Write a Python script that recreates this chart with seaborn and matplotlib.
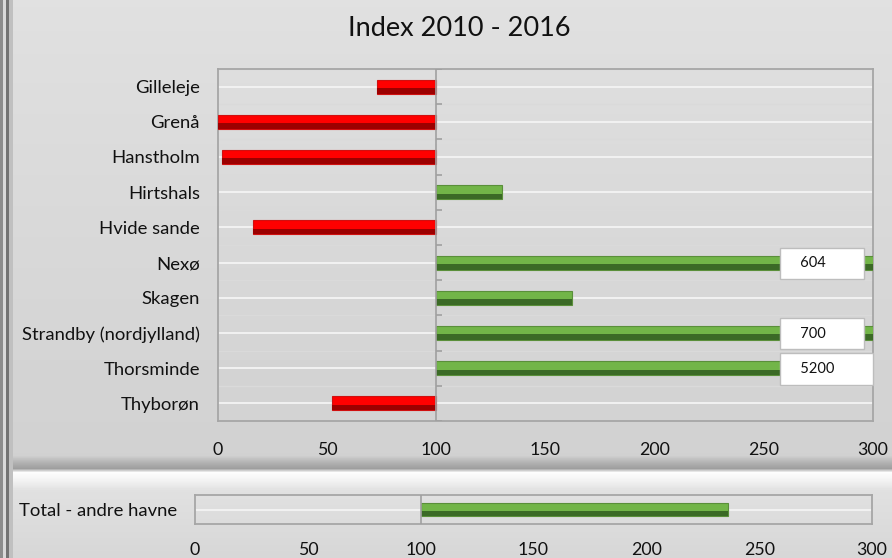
import numpy as np
import seaborn as sns
import matplotlib.pyplot as plt
from matplotlib.patches import Rectangle

# data (index, 2010 = 100)
ports = ["Gilleleje", "Grenå", "Hanstholm", "Hirtshals", "Hvide sande", "Nexø",
         "Skagen", "Strandby (nordjylland)", "Thorsminde", "Thyborøn"]
index_2016 = [73, 0, 2, 130, 16, 604, 162, 700, 5200, 52]
total_label = ["Total - andre havne"]
total_index = [236]
baseline = 100
x_ticks = [0, 50, 100, 150, 200, 250, 300]

W, H = 892, 558
RED, RED_DARK, RED_EDGE = "#ff0000", "#9c0000", "#d01010"
GREEN, GREEN_DARK, GREEN_EDGE = "#72b548", "#3b6a26", "#5a8f3a"

sns.set_theme(style="white")
plt.rcParams["font.family"] = ["Lato", "DejaVu Sans"]


def rect(x0, y0, x1, y1):
    return [x0 / W, 1 - y1 / H, (x1 - x0) / W, (y1 - y0) / H]


def draw_bars(ax, names, values, width):
    delta = [v - baseline for v in values]
    trend = ["up" if d >= 0 else "down" for d in delta]
    sns.barplot(x=delta, y=names, hue=trend, orient="h", dodge=False,
                palette={"up": GREEN, "down": RED}, saturation=1, width=width,
                legend=False, ax=ax, zorder=3)
    for p in list(ax.patches):
        # move bars so they start at the index baseline
        p.set_x(p.get_x() + baseline)
        up = p.get_width() >= 0
        p.set_edgecolor(GREEN_EDGE if up else RED_EDGE)
        p.set_linewidth(0.8)
        ax.add_patch(Rectangle((p.get_x(), p.get_y() + p.get_height() * 0.6),
                               p.get_width(), p.get_height() * 0.4,
                               color=GREEN_DARK if up else RED_DARK, zorder=4, lw=0))
    ax.set_xlim(0, 300)
    ax.set_ylim(len(names) - 0.5, -0.5)
    ax.set_xticks(x_ticks)
    ax.set_xlabel("")
    ax.set_ylabel("")
    ax.set_facecolor("none")
    ax.set_axisbelow(True)
    ax.grid(axis="y", color="#f4f4f4", lw=1.3, zorder=0)
    ax.axvline(baseline, color="#a0a0a0", lw=1.2, zorder=5)
    for s in ax.spines.values():
        s.set_color("#a6a6a6")
        s.set_linewidth(1.3)
        s.set_visible(True)
    ax.tick_params(axis="y", length=0, labelsize=13.3, colors="#111111")
    ax.tick_params(axis="x", length=0, labelsize=12.8, colors="#111111")


fig = plt.figure(figsize=(W / 100, H / 100), dpi=100)

# background: two bevelled panels
bg = fig.add_axes([0, 0, 1, 1], zorder=-10)
rows = np.arange(H)
shade = np.interp(rows, [0, 60, 455, 462, 468, 472, 480, 490, 557],
                  [0.88, 0.87, 0.82, 0.70, 0.62, 0.99, 0.95, 0.88, 0.84])
img = np.repeat(shade[:, None], W, axis=1)
img[:, 0:3] = 0.55
img[:, 3:6] = 0.85
img[:, 6:9] = 0.45
img[:, 9:13] = 0.75
bg.imshow(img, cmap="gray", vmin=0, vmax=1, aspect="auto", extent=[0, W, H, 0])
bg.set_axis_off()

fig.text(459 / W, 1 - 28 / H, "Index 2010 - 2016", ha="center", va="center",
         fontsize=19.5, color="#111111")

# top panel
ax = fig.add_axes(rect(218, 69, 873, 421))
draw_bars(ax, ports, index_2016, 0.4)
ax.set_yticks(np.arange(-0.5, len(ports)), minor=True)
ax.grid(axis="y", which="minor", color="#dadada", lw=1.0, zorder=0)
ax.tick_params(axis="y", which="minor", length=0)
ax.hlines(np.arange(-0.5, len(ports)), baseline, baseline + 2.7,
          color="#a0a0a0", lw=1.2, zorder=5)
ax.tick_params(axis="y", pad=13)
ax.tick_params(axis="x", pad=15)
for i, v in enumerate(index_2016):
    if v > 300:
        ax.text(261.5, i + 0.02, f"   {v}        ", ha="left", va="center",
                fontsize=10.5, color="#111111", zorder=6,
                bbox=dict(boxstyle="square,pad=0.6", fc="white", ec="#bdbdbd", lw=1))

# bottom panel
ax2 = fig.add_axes(rect(195, 495, 872, 524))
draw_bars(ax2, total_label, total_index, 0.42)
ax2.tick_params(axis="y", pad=13)
ax2.tick_params(axis="x", pad=13)

fig.savefig("out.png", dpi=100)
